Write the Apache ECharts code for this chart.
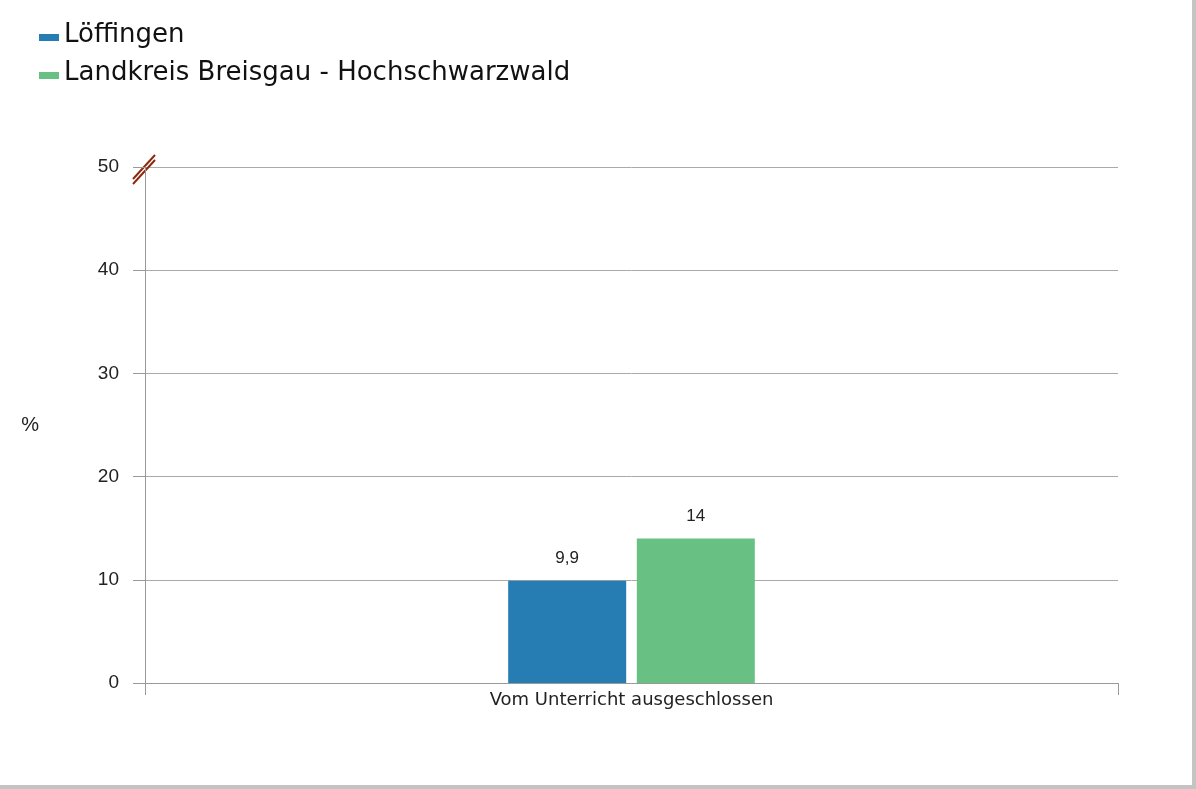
<!DOCTYPE html>
<html>
<head>
<meta charset="utf-8">
<script src="https://cdn.jsdelivr.net/npm/echarts@6/dist/echarts.min.js"></script>
<style>
  html, body { margin: 0; padding: 0; background: #fff; }
  #chart {
    width: 1192px; height: 785px;
    border-right: 4px solid #c4c4c4; border-bottom: 4px solid #c4c4c4;
  }
</style>
</head>
<body>
<div id="chart"></div>
<script>
const categories = ['Vom Unterricht ausgeschlossen']
const seriesNames = ['Löffingen', 'Landkreis Breisgau - Hochschwarzwald']
const loeffingen = [9.9]
const landkreis = [14]
const colors = ['#267db3', '#68c182']

const chart = echarts.init(document.getElementById('chart'))

const fmt = (p) => String(p.value).replace('.', ',')
// legend swatch sits a bit low, near the text baseline
const swatch = 'path://M0,0L20,0L20,0.01Z M0,8L20,8L20,15L0,15Z M0,18L20,18L20,17.99Z'

const barLabel = {
  show: true, position: 'top', distance: 14, formatter: fmt,
  fontFamily: 'Liberation Sans', fontSize: 17, color: '#222'
}

chart.setOption({
  animation: false,
  legend: {
    orient: 'vertical',
    left: 34,
    top: 17,
    itemWidth: 20,
    itemHeight: 18,
    itemGap: 12,
    icon: swatch,
    textStyle: { fontFamily: 'DejaVu Sans', fontSize: 26, color: '#111' },
    data: seriesNames
  },
  grid: { left: 145, right: 74, top: 167, bottom: 102 },
  xAxis: {
    type: 'category',
    data: categories,
    axisLine: { lineStyle: { color: '#999', width: 1 } },
    axisTick: { show: true, length: 12, lineStyle: { color: '#999' } },
    axisLabel: { fontFamily: 'DejaVu Sans', fontSize: 18, color: '#222', margin: 8 }
  },
  yAxis: {
    type: 'value',
    min: 0, max: 50, interval: 10,
    name: '%',
    nameLocation: 'middle',
    nameGap: 106,
    nameRotate: 0,
    nameTextStyle: { fontFamily: 'Liberation Sans', fontSize: 20, color: '#222' },
    axisLine: { show: true, lineStyle: { color: '#999' } },
    axisTick: { show: true, length: 12, lineStyle: { color: '#999' } },
    axisLabel: { fontFamily: 'Liberation Sans', fontSize: 19, color: '#222', margin: 26 },
    splitLine: { lineStyle: { color: '#aaa', width: 1 } }
  },
  series: [
    {
      name: seriesNames[0], type: 'bar', data: loeffingen,
      barWidth: 118, barGap: '9%',
      itemStyle: { color: colors[0] },
      label: barLabel
    },
    {
      name: seriesNames[1], type: 'bar', data: landkreis,
      barWidth: 118, barGap: '9%',
      itemStyle: { color: colors[1] },
      label: barLabel
    }
  ]
})

// axis break mark at the top of the y axis
const yTop = chart.convertToPixel({ yAxisIndex: 0 }, 50)
const ax = 145
chart.setOption({
  graphic: [0, 5].map(off => ({
    type: 'line',
    shape: { x1: ax - 12, y1: yTop + 12 + off, x2: ax + 10, y2: yTop - 12 + off },
    style: { stroke: '#8b2a0c', lineWidth: 2 }
  }))
})
</script>
</body>
</html>
